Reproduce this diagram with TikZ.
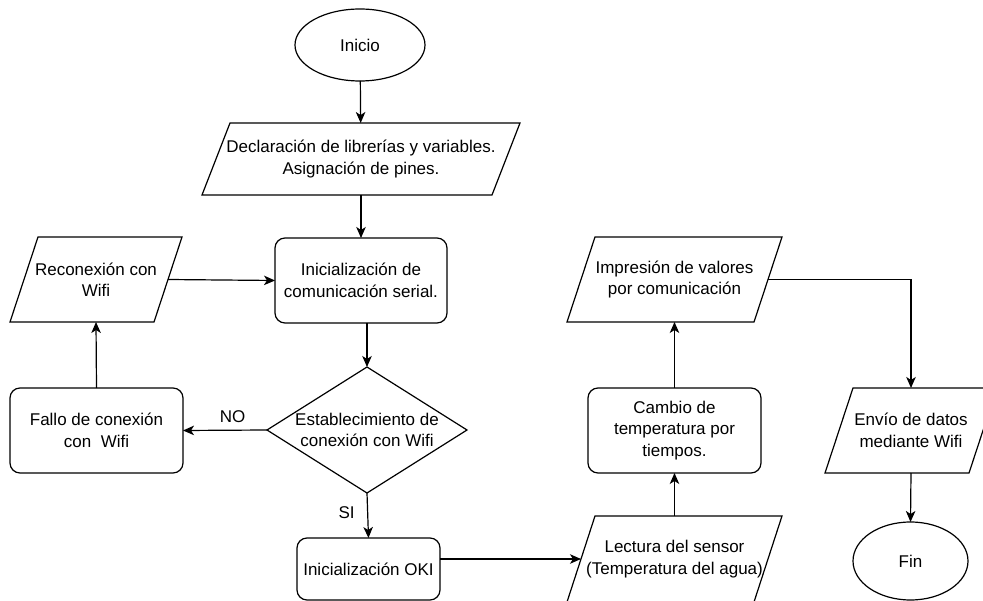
\documentclass[tikz,border=0pt]{standalone}
\usepackage{fontspec}
\setmainfont{Liberation Sans}
\usetikzlibrary{shapes.geometric,arrows.meta}

\begin{document}
\begin{tikzpicture}[x=1pt,y=-1pt,
  every node/.style={font=\fontsize{17}{21.5}\selectfont, align=center, inner sep=0pt, outer sep=0pt},
  shape line/.style={line width=1.2pt},
  flowline/.style={line width=1.2pt, -{Stealth[length=11pt,width=9.5pt,inset=3pt]}},
  terminal/.style={draw, shape line, ellipse},
  procbox/.style={draw, shape line, rounded corners=10pt},
  iobox/.style={draw=none},
  decision/.style={draw, shape line, diamond}
]
\useasboundingbox (0,0) rectangle (983,601);
\clip (0,0) rectangle (983,601);

% start / end
\node[terminal, minimum width=130pt, minimum height=72pt] (inicio) at (360,45) {Inicio};
\node[terminal, minimum width=115pt, minimum height=78pt] (fin) at (910.5,561) {Fin};

% input/output blocks (text area; outline drawn below)
\node[iobox, minimum width=290pt, minimum height=72pt] (decl) at (361,159)
  {Declaración de librerías y variables.\\Asignación de pines.};
\node[iobox, minimum width=144pt, minimum height=85pt] (recon) at (96,279.5)
  {Reconexión con\\Wifi};
\node[iobox, minimum width=187pt, minimum height=85pt] (impr) at (674.5,279.5)
  {Impresión de valores\\por comunicación};
\node[iobox, minimum width=187pt, minimum height=86pt] (lect) at (674.5,559)
  {Lectura del sensor\\(Temperatura del agua)};
\node[iobox, minimum width=144pt, minimum height=85pt] (envio) at (911,430.5)
  {Envío de datos\\mediante Wifi};

% process blocks
\node[procbox, minimum width=172pt, minimum height=85pt] (serial) at (361,280.5)
  {Inicialización de\\comunicación serial.};
\node[procbox, minimum width=173pt, minimum height=85pt] (fallo) at (96.5,430.5)
  {Fallo de conexión\\con\ \ Wifi};
\node[procbox, minimum width=143pt, minimum height=62pt] (oki) at (368.5,569)
  {Inicialización OKI};
\node[procbox, minimum width=173pt, minimum height=85pt] (cambio) at (674.5,430.5)
  {Cambio de\\temperatura por\\tiempos.};

% decision
\node[decision, minimum width=200pt, minimum height=126pt,
      label=center:{Establecimiento de\\conexión con Wifi}] (dec) at (367,430) {};

% parallelogram outlines
\foreach \n in {decl,recon,impr,lect,envio}
  \draw[shape line] ([xshift=14pt]\n.north west) -- ([xshift=14pt]\n.north east)
    -- ([xshift=-14pt]\n.south east) -- ([xshift=-14pt]\n.south west) -- cycle;

% connectors
\draw[flowline] (inicio) -- (decl);
\draw[flowline] (decl) -- (serial);
\draw[flowline] (recon.east) -- (serial.west);
\draw[flowline] (serial.south -| dec.north) -- (dec.north);
\draw[flowline] (dec.west) -- node[pos=0.41, above=8pt] (nolbl) {NO} (fallo.east);
\draw[flowline] (fallo.north) -- (recon.south);
\draw[flowline] (dec.south) -- node[pos=0.44, left=13pt] (silbl) {SI} (oki.north);
\draw[flowline] (oki.east |- lect.west) -- (lect.west);
\draw[flowline] (lect.north) -- (cambio.south);
\draw[flowline] (cambio.north) -- (impr.south);
\draw[flowline] (impr.east) -| (envio.north);
\draw[flowline] (envio.south) -- (fin.north);
\end{tikzpicture}
\end{document}
